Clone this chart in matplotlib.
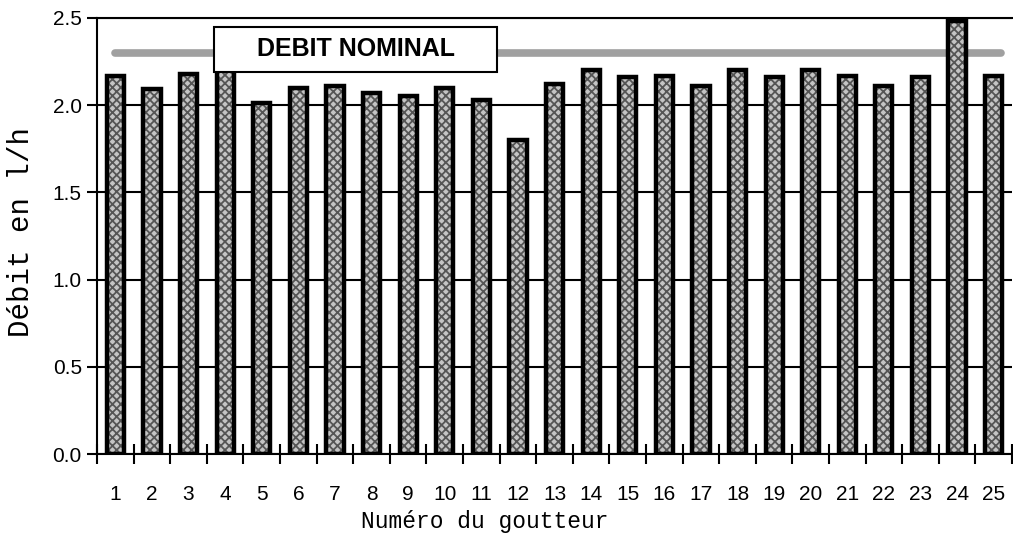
import matplotlib.pyplot as plt
import matplotlib.patches as mpatches
import numpy as np

## values
goutteurs = list(range(1, 26))
debits = [2.17, 2.09, 2.18, 2.20, 2.01, 2.10, 2.11, 2.07, 2.05, 2.10,
          2.03, 1.80, 2.12, 2.20, 2.16, 2.17, 2.11, 2.20, 2.16, 2.20,
          2.17, 2.11, 2.16, 2.48, 2.17]
debit_nominal = 2.3
y_ticks = [0.0, 0.5, 1.0, 1.5, 2.0, 2.5]

plt.rcParams['hatch.linewidth'] = 1.3

fig = plt.figure(figsize=(10.13, 5.35), dpi=100)
ax = fig.add_axes([0.0958, 0.1514, 0.9032, 0.815])

x = np.array(goutteurs)

## grid lines behind the bars
for t in y_ticks:
    ax.axhline(t, color='black', lw=1.5, zorder=0)

## nominal flow line
ax.hlines(debit_nominal, 1.0, 25.2, color='#a0a0a0', lw=5.5, zorder=1,
          capstyle='round')

## bars: gray checker fill then a thick black outline
ax.bar(x, debits, width=0.47, color='#c4c4c4', edgecolor='#555555',
       hatch='xxxx', lw=0, zorder=2)
ax.bar(x, debits, width=0.47, color='none', edgecolor='black',
       lw=3.2, zorder=3)

## label box
rect = mpatches.Rectangle((3.70, 2.19), 7.73, 0.257, facecolor='white',
                          edgecolor='black', lw=1.5, zorder=5)
ax.add_patch(rect)
ax.text(7.57, 2.32, 'DEBIT NOMINAL', ha='center', va='center',
        fontsize=18, fontweight='bold', family='Liberation Sans', zorder=6)

ax.set_xlim(0.5, 25.5)
ax.set_ylim(0, 2.5)

ax.spines['right'].set_visible(False)
for s in ['left', 'top', 'bottom']:
    ax.spines[s].set_linewidth(1.5)

ax.set_yticks(y_ticks)
ax.set_yticklabels(['%.1f' % t for t in y_ticks], fontsize=15,
                   family='Liberation Sans')
ax.tick_params(axis='y', direction='out', length=7, width=1.5, pad=4)

ax.set_xticks(x)
ax.set_xticklabels([str(g) for g in goutteurs], fontsize=15,
                   family='Liberation Sans')
ax.set_xticks(np.arange(0.5, 25.6, 1.0), minor=True)
ax.tick_params(axis='x', which='major', length=0, pad=22)
ax.tick_params(axis='x', which='minor', direction='inout', length=14, width=1.5)

ax.set_xlabel('Numéro du goutteur', fontsize=16.5, family='Liberation Mono')
ax.xaxis.set_label_coords(0.424, -0.128)
ax.set_ylabel('Débit en l/h', fontsize=21, family='Liberation Mono')
ax.yaxis.set_label_coords(-0.068, 0.51)

plt.savefig('out.png', dpi=100)
